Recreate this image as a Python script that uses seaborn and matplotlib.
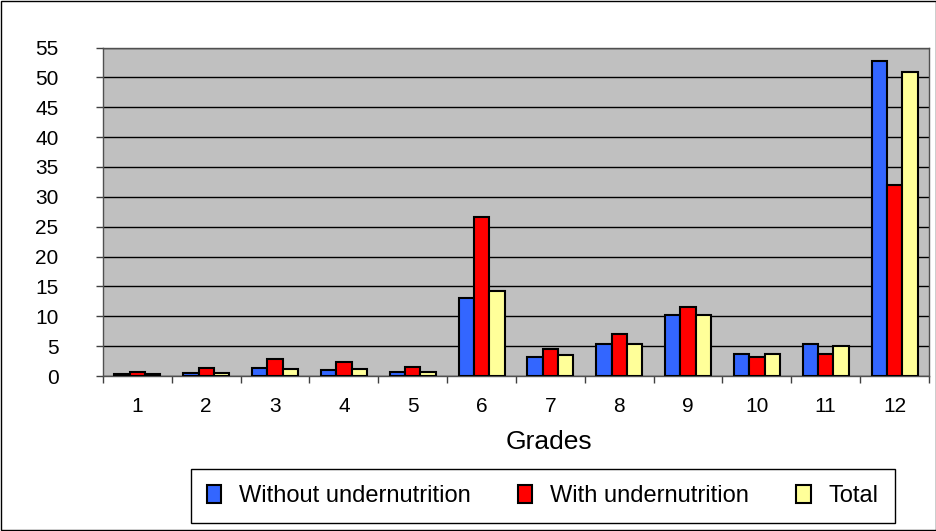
import seaborn as sns
import matplotlib.pyplot as plt
import matplotlib.ticker as mtick
import pandas as pd

# values (percent per grade)
grades = ['1', '2', '3', '4', '5', '6', '7', '8', '9', '10', '11', '12']
without_under = [0.3, 0.55, 1.3, 1.05, 0.7, 13.1, 3.2, 5.35, 10.15, 3.7, 5.35, 52.8]
with_under = [0.75, 1.35, 2.9, 2.3, 1.55, 26.6, 4.5, 6.95, 11.5, 3.2, 3.7, 31.9]
total = [0.3, 0.55, 1.25, 1.2, 0.75, 14.2, 3.45, 5.35, 10.15, 3.7, 5.05, 50.9]
series = ['Without undernutrition', 'With undernutrition', 'Total']
colors = ['#3366FF', '#FF0000', '#FFFF99']

df = pd.DataFrame({'grade': grades * 3,
                   'value': without_under + with_under + total,
                   'series': [s for s in series for _ in grades]})

settings = {'font.family': ['Liberation Sans', 'DejaVu Sans'], 'font.size': 15,
            'axes.facecolor': '#C0C0C0', 'figure.facecolor': 'white'}
with plt.rc_context(settings):
    fig = plt.figure(figsize=(9.37, 5.31), dpi=100)
    ax = fig.add_axes([103 / 937, 1 - 376 / 531, 826 / 937, 328.5 / 531])
    sns.barplot(data=df, x='grade', y='value', hue='series', hue_order=series,
                palette=colors, width=0.67, gap=0, edgecolor='black', linewidth=1.5,
                saturation=1, ax=ax, legend=True, zorder=3)

    ax.set_ylim(0, 55)
    ax.set_xlim(-0.5, 11.5)
    ax.yaxis.set_major_locator(mtick.MultipleLocator(5))
    ax.grid(axis='y', color='black', linewidth=1, zorder=0)
    ax.set_axisbelow(True)
    ax.tick_params(axis='y', direction='out', length=5, width=1, color='#404040', labelsize=15, pad=27)
    ax.tick_params(axis='x', which='major', length=0, labelsize=15, pad=15)
    ax.xaxis.set_minor_locator(mtick.FixedLocator([i - 0.5 for i in range(13)]))
    ax.tick_params(axis='x', which='minor', direction='out', length=5, width=1, color='#404040')
    for side in ['left', 'bottom', 'right', 'top']:
        ax.spines[side].set_color('#505050')
        ax.spines[side].set_linewidth(1)
    ax.set_xlabel('Grades', fontsize=19)
    ax.xaxis.set_label_coords(0.54, -0.165)
    ax.set_ylabel('')

    handles, labels = ax.get_legend_handles_labels()
    ax.legend_.remove()
    leg = fig.legend(handles, labels, ncol=3, loc='upper left',
                     bbox_to_anchor=(191 / 937, 1 - 469 / 531),
                     fontsize=17, frameon=True, fancybox=False, edgecolor='black',
                     facecolor='white', framealpha=1,
                     handlelength=0.6, handleheight=0.8, handletextpad=0.76,
                     columnspacing=2.0, borderpad=0.68, borderaxespad=0)
    leg.get_frame().set_linewidth(1)

    fig.patches.append(plt.Rectangle((0.001, 0.001), 0.998, 0.997, transform=fig.transFigure,
                                     fill=False, edgecolor='black', linewidth=1))
    fig.savefig('out.png', dpi=100)
    plt.close()
